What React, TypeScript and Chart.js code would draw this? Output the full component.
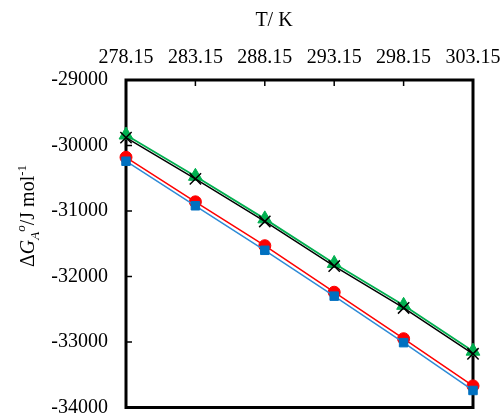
import React, { useEffect, useRef } from "react";
import { Chart, registerables } from "chart.js";

Chart.register(...registerables);

const temperatures = [278.15, 283.15, 288.15, 293.15, 298.15, 303.15];
const xTickValues = [278.15, 283.15, 288.15, 293.15, 298.15, 303.15];
const yTickValues = [-34000, -33000, -32000, -31000, -30000, -29000];
const seriesGreen = [-29840, -30470, -31120, -31800, -32440, -33140];
const seriesBlack = [-29880, -30510, -31160, -31840, -32480, -33180];
const seriesRed = [-30180, -30860, -31530, -32240, -32950, -33670];
const seriesBlue = [-30240, -30920, -31600, -32300, -33010, -33740];

const FONT = "'Liberation Serif', 'Times New Roman', serif";

const framePlugin = {
  id: "frameAndTitles",
  beforeDatasetsDraw(chart: any) {
    const { ctx, chartArea } = chart;
    const xs = chart.scales.x;
    const ys = chart.scales.y;
    ctx.save();
    ctx.strokeStyle = "#000";
    ctx.lineWidth = 1.5;
    xTickValues.forEach((v) => {
      const px = xs.getPixelForValue(v);
      ctx.beginPath();
      ctx.moveTo(px, chartArea.top);
      ctx.lineTo(px, chartArea.top + 6);
      ctx.stroke();
    });
    yTickValues.forEach((v) => {
      const py = ys.getPixelForValue(v);
      ctx.beginPath();
      ctx.moveTo(chartArea.left, py);
      ctx.lineTo(chartArea.left + 6, py);
      ctx.stroke();
    });
    ctx.lineWidth = 3;
    ctx.strokeRect(
      chartArea.left,
      chartArea.top,
      chartArea.right - chartArea.left,
      chartArea.bottom - chartArea.top
    );
    ctx.restore();
  },
  afterDraw(chart: any) {
    const { ctx } = chart;
    ctx.save();
    ctx.fillStyle = "#000";
    ctx.font = `20px ${FONT}`;
    ctx.textAlign = "center";
    ctx.textBaseline = "middle";
    ctx.fillText("T/ K", 274, 21);
    const parts: { t: string; f: string; dy: number }[] = [
      { t: "Δ", f: `20px ${FONT}`, dy: 0 },
      { t: "G", f: `italic 20px ${FONT}`, dy: 0 },
      { t: "A", f: `italic 13px ${FONT}`, dy: 5 },
      { t: "o", f: `italic 13px ${FONT}`, dy: -9 },
      { t: "/J mol", f: `20px ${FONT}`, dy: 0 },
      { t: "-1", f: `13px ${FONT}`, dy: -8 },
    ];
    let total = 0;
    parts.forEach((p) => {
      ctx.font = p.f;
      total += ctx.measureText(p.t).width;
    });
    ctx.translate(27, 216);
    ctx.rotate(-Math.PI / 2);
    ctx.textAlign = "left";
    ctx.textBaseline = "alphabetic";
    let x = -total / 2;
    parts.forEach((p) => {
      ctx.font = p.f;
      ctx.fillText(p.t, x, 7 + p.dy);
      x += ctx.measureText(p.t).width;
    });
    ctx.restore();
  },
};

export default function App() {
  const ref = useRef<HTMLCanvasElement | null>(null);
  useEffect(() => {
    document.body.style.margin = "0";
    const mk = (arr: number[]) => temperatures.map((t, i) => ({ x: t, y: arr[i] }));
    const chart = new Chart(ref.current as HTMLCanvasElement, {
      type: "line",
      data: {
        datasets: [
          {
            label: "black",
            data: mk(seriesBlack),
            borderColor: "#000000",
            backgroundColor: "#000000",
            borderWidth: 1.5,
            pointStyle: "crossRot",
            pointRadius: 8,
            pointBorderWidth: 1.5,
            clip: false,
          },
          {
            label: "green",
            data: mk(seriesGreen),
            borderColor: "#00B050",
            backgroundColor: "#00B050",
            borderWidth: 1.8,
            pointStyle: "triangle",
            pointRadius: 8,
            pointBorderWidth: 1,
            clip: false,
          },
          {
            label: "blue",
            data: mk(seriesBlue),
            borderColor: "#2E8BD6",
            backgroundColor: "#0070C0",
            pointBorderColor: "#0070C0",
            borderWidth: 1.5,
            pointStyle: "rect",
            pointRadius: 6,
            pointBorderWidth: 1,
            clip: false,
          },
          {
            label: "red",
            data: mk(seriesRed),
            borderColor: "#FF0000",
            backgroundColor: "#FF0000",
            borderWidth: 1.5,
            pointStyle: "circle",
            pointRadius: 6,
            pointBorderWidth: 1,
            clip: false,
          },
        ],
      },
      options: {
        animation: false,
        responsive: false,
        devicePixelRatio: 1,
        layout: { padding: { left: 0, top: 0, right: 28, bottom: 9 } },
        plugins: {
          legend: { display: false },
          tooltip: { enabled: false },
          title: { display: false },
        },
        scales: {
          x: {
            type: "linear",
            position: "top",
            min: 278.15,
            max: 303.15,
            afterBuildTicks: (s: any) => {
              s.ticks = xTickValues.map((v) => ({ value: v }));
            },
            afterFit: (s: any) => {
              s.height = 80;
              s.paddingLeft = 0;
              s.paddingRight = 0;
            },
            grid: { display: false, drawTicks: false },
            border: { display: false },
            ticks: {
              font: { family: FONT, size: 20 },
              color: "#000",
              padding: 10,
              maxRotation: 0,
              autoSkip: false,
              callback: (v: any) => Number(v).toFixed(2),
            },
          },
          y: {
            type: "linear",
            min: -34000,
            max: -29000,
            afterBuildTicks: (s: any) => {
              s.ticks = yTickValues.map((v) => ({ value: v }));
            },
            afterFit: (s: any) => {
              s.width = 126;
              s.paddingTop = 0;
              s.paddingBottom = 0;
            },
            grid: { display: false, drawTicks: false },
            border: { display: false },
            ticks: {
              font: { family: FONT, size: 20 },
              color: "#000",
              padding: 18,
              autoSkip: false,
              callback: (v: any) => String(v),
            },
          },
        },
      },
      plugins: [framePlugin],
    } as any);
    return () => chart.destroy();
  }, []);
  return (
    <div style={{ width: 501, height: 417 }}>
      <canvas ref={ref} width={501} height={417} style={{ display: "block" }} />
    </div>
  );
}
